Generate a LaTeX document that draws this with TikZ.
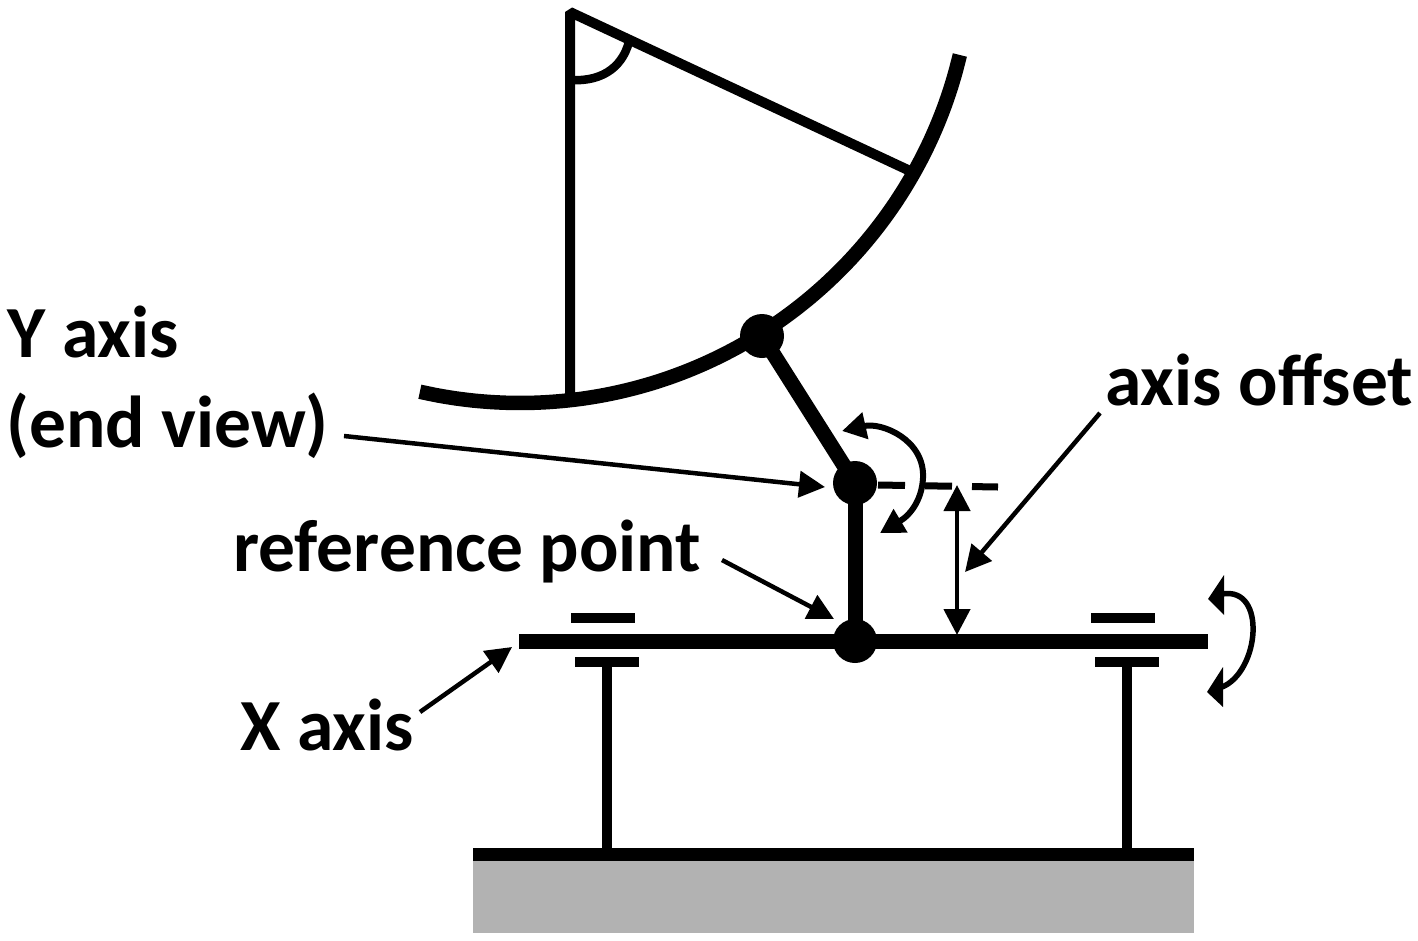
\documentclass[tikz,border=0pt]{standalone}
\usepackage{fontspec}
\setmainfont{Carlito}
\usetikzlibrary{arrows.meta}
\tikzset{
  lbl/.style={anchor=base west,inner sep=0pt,font=\fontsize{73.5}{73.5}\selectfont\bfseries},
  dot/.style={circle,fill=black,inner sep=0pt,minimum size=44pt},
  lead/.style={line width=4.5pt,-{Triangle[length=26pt,width=26pt]},shorten >=0pt},
  dbl/.style={line width=4.5pt,{Triangle[length=26pt,width=26pt]}-{Triangle[length=26pt,width=26pt]}},
  curv/.style={line width=6pt,{Triangle[length=24pt,width=26pt]}-{Triangle[length=24pt,width=26pt]}},
  bar/.style={line width=10pt},
  thick link/.style={line width=15pt},
  frame/.style={line width=10pt},
}
\begin{document}
\begin{tikzpicture}[x=1pt,y=-1pt]
\useasboundingbox (0,0) rectangle (1418,940);
% base
\fill[fill=black!30] (473,860) rectangle (1194,933);
\coordinate (bl) at (473,854); \coordinate (br) at (1194,854);
\draw[line width=13pt] (bl) -- (br);
% posts
\coordinate (p1t) at (607,662); \coordinate (p1b) at (607,850);
\coordinate (p2t) at (1127,662); \coordinate (p2b) at (1127,850);
\draw[bar] (p1t) -- (p1b);
\draw[bar] (p2t) -- (p2b);
\draw[bar] (575,662) -- (639,662);
\draw[bar] (1095,662) -- (1159,662);
\draw[bar] (571,618) -- (635,618);
\draw[bar] (1091,618) -- (1155,618);
% beam
\coordinate (bmL) at (519,641); \coordinate (bmR) at (1208,641);
\draw[line width=15pt] (bmL) -- (bmR);
% dish
\draw[line width=14.5pt] plot[smooth,samples=40,domain=102.8:13.3] ({520+452*cos(\x)},{-49+452*sin(\x)});
\coordinate (apex) at (570,12);
\coordinate (rimL) at (570,396);
\coordinate (rimR) at (908,170);
\draw[frame,line join=bevel] (rimL) -- (apex) -- (rimR);
\draw[line width=8.5pt] (571,80) .. controls (604,82) and (625,65) .. (630,37);
% arm
\node[dot] (d1) at (762,336) {};
\node[dot] (d2) at (855,483) {};
\node[dot] (d3) at (855,641) {};
\draw[thick link] (d1.center) -- (d2.center);
\draw[thick link] (d2.center) -- (d3.center);
% dashes
\coordinate (da) at (878,485); \coordinate (db) at (998,487);
\draw[line width=7pt,dash pattern=on 27pt off 20pt] (da) -- (db);
% offset arrow
\coordinate (oa) at (957,485); \coordinate (ob) at (957,635);
\draw[dbl] (oa) -- (ob);
% angle arrow
\coordinate (ca) at (842,431); \coordinate (cb) at (880,533);
\draw[curv] (ca) .. controls (882,422) and (925,440) .. (923,478) .. controls (922,498) and (912,514) .. (cb);
% rotation arrow
\coordinate (ra) at (1222,594); \coordinate (rb) at (1222,687);
\draw[line width=5.5pt] (ra) .. controls (1245,590) and (1254,610) .. (1253,632) .. controls (1252,655) and (1240,680) .. (rb);
\fill (1208,599) -- (1224,575) -- (1224,615) -- cycle;
\fill (1207,692) -- (1223,667) -- (1223,707) -- cycle;
% labels
\node[lbl] (ty) at (7,357) {Y axis};
\node[lbl] (te) at (6,447) {(end view)};
\node[lbl] (tr) at (233,571) {reference point};
\node[lbl] (to) at (1105,405) {axis offset};
\node[lbl] (tx) at (240,750) {X axis};
% leaders
\coordinate (l1) at (344,436); \coordinate (l1e) at (825,487);
\coordinate (l2) at (722,560); \coordinate (l2e) at (834,619);
\coordinate (l3) at (1100,413); \coordinate (l3e) at (965,572);
\coordinate (l4) at (420,712); \coordinate (l4e) at (512,647);
\draw[lead] (l1) -- (l1e);
\draw[lead] (l2) -- (l2e);
\draw[lead] (l3) -- (l3e);
\draw[lead] (l4) -- (l4e);
\end{tikzpicture}
\end{document}
